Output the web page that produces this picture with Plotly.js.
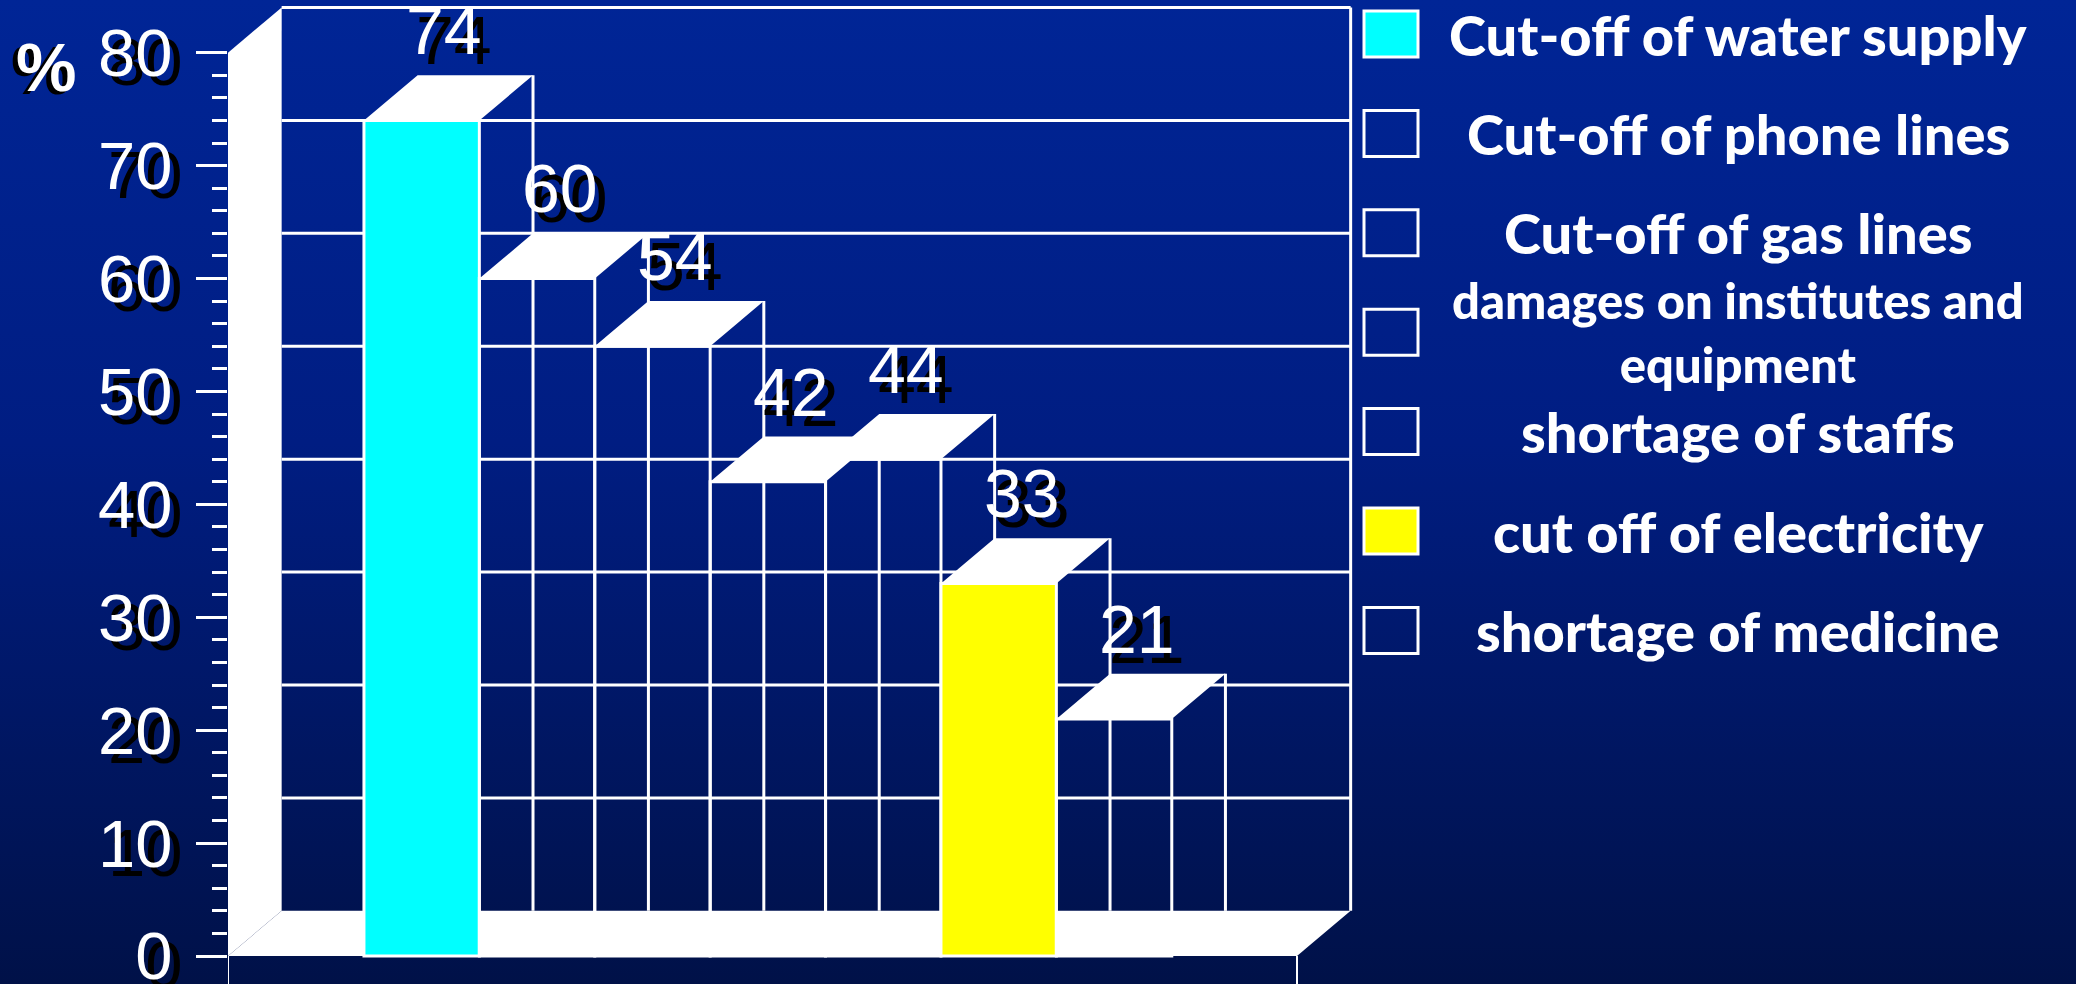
<!DOCTYPE html>
<html><head><meta charset="utf-8">
<script src="https://cdn.plot.ly/plotly-3.0.1.min.js"></script>
<style>
html,body{margin:0;padding:0;width:2076px;height:984px;overflow:hidden;
background:linear-gradient(to bottom,#002596 0%,#001d82 45%,#001148 100%);}
#chart{width:2076px;height:984px;}
</style></head><body><div id="chart"></div>
<script>
// ---- data ----
const categories = ['Cut-off of water supply','Cut-off of phone lines','Cut-off of gas lines','damages on institutes and<br>equipment','shortage of staffs','cut off of electricity','shortage of medicine'];
const values = [74, 60, 54, 42, 44, 33, 21];
const yTicks = [0, 10, 20, 30, 40, 50, 60, 70, 80];
const yUnit = '%';

// ---- style ----
const barColors = ['#00ffff','rgba(0,0,0,0)','rgba(0,0,0,0)','rgba(0,0,0,0)','rgba(0,0,0,0)','#ffff00','rgba(0,0,0,0)'];
const legendFontSizes = [56, 56, 56, 49, 56, 56, 56];
const W = 2076, HGT = 984;
const ML = 228, MR = 722, MT = 3, MB = 0;
const X0 = -0.5 - 1.178, X1 = 6.5 + 1.085, XMAX = 8.079;
const YMIN = -2.48, YMAX = 84.4;
const DX = 0.465, DY = 4;           // depth offset of the 3-D look
const YTOP = yTicks[yTicks.length - 1];
const xs = categories.map((c, i) => i);
const px2x = p => (p - ML) / (W - ML - MR);
const px2y = p => (HGT - MB - p) / (HGT - MT - MB);
const wl = {color: 'white', width: 3};

const shapes = [];
// back wall gridlines (and top edge)
yTicks.forEach(t => { if (t > 0) shapes.push({type:'line', xref:'x', yref:'y', x0:X0+DX, x1:X1+DX, y0:t+DY, y1:t+DY, line:wl, layer:'below'}); });
// back wall right edge
shapes.push({type:'line', xref:'x', yref:'y', x0:X1+DX, x1:X1+DX, y0:DY, y1:YTOP+DY, line:wl, layer:'below'});
// back edges of each column
values.forEach((v, i) => shapes.push({type:'line', xref:'x', yref:'y', x0:i+0.5+DX, x1:i+0.5+DX, y0:DY, y1:v+DY, line:wl, layer:'below'}));
// left side wall
shapes.push({type:'path', xref:'x', yref:'y', path:`M${X0},0 L${X0},${YTOP} L${X0+DX},${YTOP+DY} L${X0+DX},${DY} Z`, fillcolor:'white', line:{width:0}, layer:'below'});
// floor
shapes.push({type:'path', xref:'x', yref:'y', path:`M${X0},0 L${X1},0 L${X1+DX},${DY} L${X0+DX},${DY} Z`, fillcolor:'white', line:{width:0}, layer:'below'});
// thin lines below the floor
[X0, X1].forEach(x => shapes.push({type:'line', xref:'x', yref:'y', x0:x, x1:x, y0:YMIN, y1:0, line:{color:'white', width:2}, layer:'below'}));
// top faces of columns
values.forEach((v, i) => shapes.push({type:'path', xref:'x', yref:'y',
  path:`M${i-0.5},${v} L${i+0.5},${v} L${i+0.5+DX},${v+DY} L${i-0.5+DX},${v+DY} Z`,
  fillcolor:'white', line:{width:0}, layer:'below'}));

// legend (custom, large swatches)
const legY0 = 34, legStep = 99.4;
categories.forEach((c, i) => {
  const cy = legY0 + legStep * i;
  shapes.push({type:'rect', xref:'paper', yref:'paper', x0:px2x(1364), x1:px2x(1418), y0:px2y(cy+23), y1:px2y(cy-23),
    fillcolor:barColors[i], line:{color:'white', width:3}});
});

const annotations = [];
values.forEach((v, i) => {
  annotations.push({x:i+DX/2, y:v+DY, xref:'x', yref:'y', text:String(v), showarrow:false, xanchor:'center', yanchor:'middle',
    xshift:6, yshift:35, font:{family:'Liberation Sans, Arial', size:68, color:'black'}});
  annotations.push({x:i+DX/2, y:v+DY, xref:'x', yref:'y', text:String(v), showarrow:false, xanchor:'center', yanchor:'middle',
    xshift:-4, yshift:45, font:{family:'Liberation Sans, Arial', size:68, color:'white'}});
});
annotations.push({xref:'paper', yref:'paper', x:px2x(41), y:px2y(70), text:yUnit, showarrow:false, xanchor:'center', yanchor:'middle',
  font:{family:'Liberation Sans, Arial', size:68, weight:700, color:'black'}});
annotations.push({xref:'paper', yref:'paper', x:px2x(46), y:px2y(67), text:yUnit, showarrow:false, xanchor:'center', yanchor:'middle',
  font:{family:'Liberation Sans, Arial', size:68, weight:700, color:'white'}});
categories.forEach((c, i) => {
  annotations.push({xref:'paper', yref:'paper', x:px2x(1738), y:px2y(legY0 + legStep*i), text:c, showarrow:false,
    xanchor:'center', yanchor:'middle', align:'center',
    font:{family:'Lato, Noto Sans, sans-serif', size:legendFontSizes[i], weight:900, color:'white'}});
});

const minorVals = [];
for (let k = 0; k < YTOP; k += 2) if (k % 10 !== 0) minorVals.push(k);

const trace = {
  type:'bar', x:xs, y:values, width:1, text:categories, hoverinfo:'y+text', textposition:'none', yaxis:'y2',
  marker:{color:barColors, line:{color:'white', width:3}}, showlegend:false
};

const layout = {
  width:W, height:HGT, margin:{l:ML, r:MR, t:MT, b:MB, pad:0},
  paper_bgcolor:'rgba(0,0,0,0)', plot_bgcolor:'rgba(0,0,0,0)',
  showlegend:false, bargap:0,
  xaxis:{range:[X0, XMAX], visible:false, fixedrange:true},
  yaxis:{range:[YMIN, YMAX], tickmode:'array', tickvals:yTicks, ticks:'outside', ticklen:31, tickwidth:3, tickcolor:'white',
    showgrid:false, zeroline:false, showline:false, ticklabelstandoff:0, ticklabelshift:9, ticklabeloverflow:'allow',
    tickfont:{family:'Liberation Sans, Arial', size:67, color:'black'},
    minor:{tickmode:'array', tickvals:minorVals, ticks:'outside', ticklen:15, tickwidth:3, tickcolor:'white', showgrid:false}},
  yaxis2:{overlaying:'y', anchor:'x', side:'left', range:[YMIN, YMAX], tickmode:'array', tickvals:yTicks, ticks:'outside', ticklen:31,
    tickwidth:3, tickcolor:'rgba(0,0,0,0)', showgrid:false, zeroline:false, showline:false, ticklabelstandoff:10, ticklabeloverflow:'allow',
    tickfont:{family:'Liberation Sans, Arial', size:67, color:'white'}},
  shapes, annotations
};

Plotly.newPlot('chart', [trace], layout, {displayModeBar:false, staticPlot:true});
</script></body></html>
